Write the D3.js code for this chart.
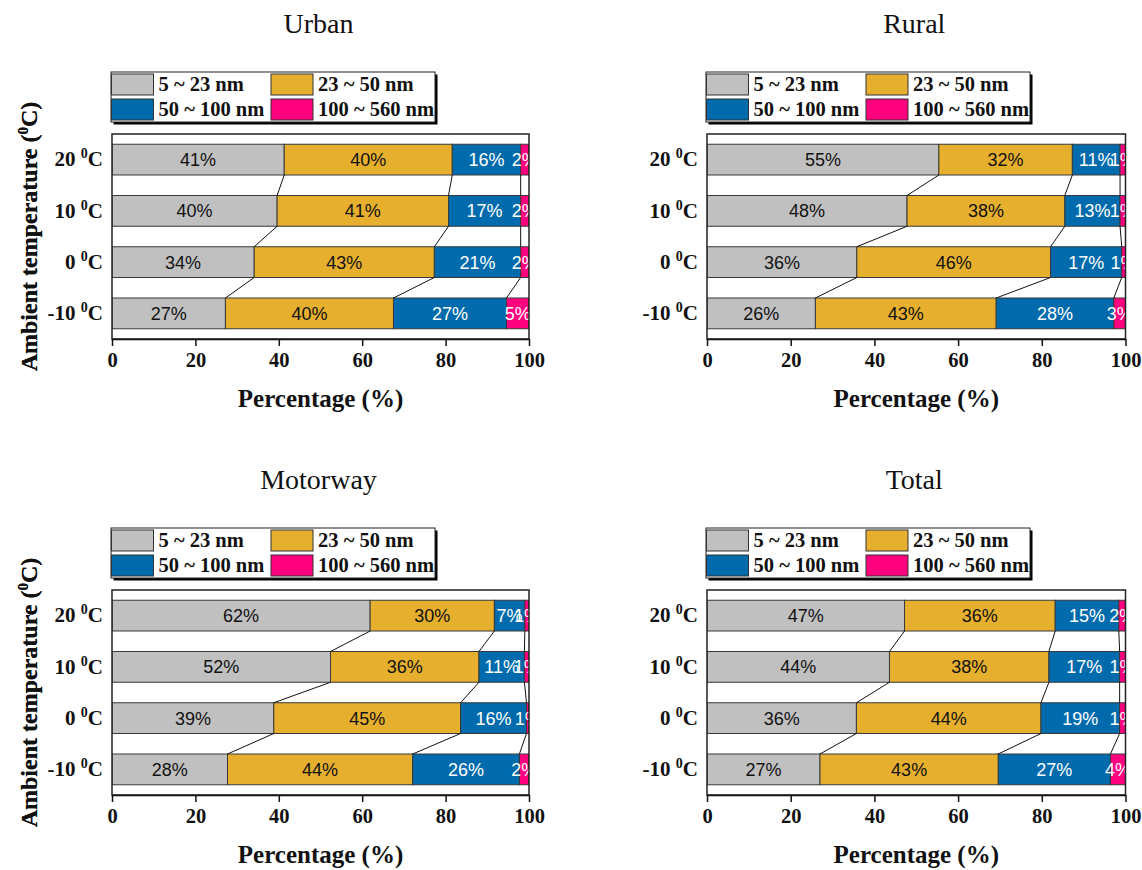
<!DOCTYPE html>
<html>
<head>
<meta charset="utf-8">
<script src="https://cdn.jsdelivr.net/npm/d3@7"></script>
<style>
  html, body { margin: 0; padding: 0; background: #fff; }
  svg { display: block; }
</style>
</head>
<body>
<svg id="chart" width="1142" height="870"></svg>
<script>
// Particle size bins (stack order, left to right)
const sizeBins = ["5 ~ 23 nm", "23 ~ 50 nm", "50 ~ 100 nm", "100 ~ 560 nm"];
const binColors = ["#c0c0c0", "#e6af2e", "#006bac", "#ff007f"];
const labelColors = ["#111", "#111", "#fff", "#fff"];

// Ambient temperatures, top to bottom
const temperatures = ["20", "10", "0", "-10"];
const xTicks = [0, 20, 40, 60, 80, 100];

// Share of each size bin (%) per temperature, rows follow `temperatures`
const urban = [
  [41.3, 40.3, 16.4, 2.0],
  [39.6, 41.1, 17.3, 2.0],
  [34.1, 43.2, 20.7, 2.0],
  [27.2, 40.3, 27.1, 5.4]
];
const rural = [
  [55.4, 31.9, 11.4, 1.3],
  [47.8, 37.7, 13.2, 1.3],
  [35.8, 46.3, 17.0, 0.9],
  [25.9, 43.2, 28.1, 2.8]
];
const motorway = [
  [61.9, 29.8, 7.3, 1.0],
  [52.4, 35.6, 10.9, 1.1],
  [38.8, 44.8, 15.8, 0.6],
  [27.7, 44.4, 25.6, 2.3]
];
const total = [
  [47.2, 36.0, 15.2, 1.6],
  [43.6, 38.1, 16.9, 1.4],
  [35.7, 44.1, 18.8, 1.4],
  [27.0, 42.6, 26.8, 3.6]
];

const panels = [
  { title: "Urban",    data: urban,    left: 112, top: 134, width: 417 },
  { title: "Rural",    data: rural,    left: 707, top: 134, width: 418.5 },
  { title: "Motorway", data: motorway, left: 112, top: 590, width: 417 },
  { title: "Total",    data: total,    left: 707, top: 590, width: 418.5 }
];

const plotHeight = 205;
const serif = "'Liberation Serif', 'Times New Roman', serif";
const sans = "'Liberation Sans', Arial, sans-serif";
const pct = d3.format(".0f");

const svg = d3.select("#chart");

panels.forEach((p, pi) => {
  const g = svg.append("g").attr("transform", `translate(${p.left},${p.top})`);
  const w = p.width, h = plotHeight;

  const x = d3.scaleLinear().domain([0, 100]).range([0, w]);
  const y = d3.scaleBand().domain(temperatures).range([0, h])
    .paddingInner(0.4).paddingOuter(0.2);

  const rows = p.data.map((vals, i) => {
    const r = { temp: temperatures[i] };
    vals.forEach((v, k) => r[k] = v);
    return r;
  });
  const series = d3.stack().keys(d3.range(sizeBins.length))(rows);

  // Title
  g.append("text")
    .attr("x", w / 2 - 2).attr("y", -101)
    .attr("text-anchor", "middle")
    .attr("font-family", serif).attr("font-size", 28)
    .attr("fill", "#111")
    .text(p.title);

  // Legend with drop shadow
  const lg = g.append("g").attr("transform", "translate(-1,-62)");
  const lw = 324, lh = 50;
  lg.append("rect").attr("x", 2.5).attr("y", 2.5).attr("width", lw).attr("height", lh).attr("fill", "#000");
  lg.append("rect").attr("width", lw).attr("height", lh).attr("fill", "#fff")
    .attr("stroke", "#222").attr("stroke-width", 1);
  sizeBins.forEach((name, k) => {
    const col = k % 2, row = Math.floor(k / 2);
    const sx = col === 0 ? 0.5 : 160, sy = row === 0 ? 2 : 27;
    lg.append("rect")
      .attr("x", sx).attr("y", sy).attr("width", 42).attr("height", 21)
      .attr("fill", binColors[k]).attr("stroke", "#333").attr("stroke-width", 1);
    lg.append("text")
      .attr("x", sx + 47).attr("y", sy + 17)
      .attr("font-family", serif).attr("font-weight", "bold").attr("font-size", 20.5)
      .attr("fill", "#111")
      .text(name);
  });

  // Clip region for the plot area
  const clipId = "clip" + pi;
  g.append("clipPath").attr("id", clipId)
    .append("rect").attr("width", w).attr("height", h);

  // Plot background
  g.append("rect").attr("width", w).attr("height", h).attr("fill", "#fff");

  const plot = g.append("g").attr("clip-path", `url(#${clipId})`);

  // Stacked bars
  series.forEach((s, k) => {
    plot.append("g").selectAll("rect")
      .data(s).join("rect")
      .attr("x", d => x(d[0]))
      .attr("y", d => y(d.data.temp))
      .attr("width", d => x(d[1]) - x(d[0]))
      .attr("height", y.bandwidth())
      .attr("fill", binColors[k])
      .attr("stroke", "#3a3a3a").attr("stroke-width", 1);
  });

  // Connector lines between the segment boundaries of adjacent bars
  const links = [];
  series.slice(0, -1).forEach(s => {
    for (let i = 0; i < s.length - 1; i++) {
      links.push({ a: s[i], b: s[i + 1] });
    }
  });
  plot.append("g").selectAll("line")
    .data(links).join("line")
    .attr("x1", d => x(d.a[1]))
    .attr("y1", d => y(d.a.data.temp) + y.bandwidth())
    .attr("x2", d => x(d.b[1]))
    .attr("y2", d => y(d.b.data.temp))
    .attr("stroke", "#111").attr("stroke-width", 1);

  // Value labels
  series.forEach((s, k) => {
    plot.append("g").selectAll("text")
      .data(s).join("text")
      .attr("x", d => (x(d[0]) + x(d[1])) / 2)
      .attr("y", d => y(d.data.temp) + y.bandwidth() / 2)
      .attr("dy", "0.36em")
      .attr("text-anchor", "middle")
      .attr("font-family", sans).attr("font-size", 18)
      .attr("fill", labelColors[k])
      .text(d => pct(d[1] - d[0]) + "%");
  });

  // Frame
  g.append("rect").attr("width", w).attr("height", h)
    .attr("fill", "none").attr("stroke", "#222").attr("stroke-width", 1.5);

  // X axis
  const xa = g.append("g").attr("transform", `translate(0,${h})`)
    .call(d3.axisBottom(x).tickValues(xTicks).tickSize(7).tickSizeOuter(0).tickPadding(6));
  xa.select(".domain").attr("stroke", "#111").attr("stroke-width", 1.5);
  xa.selectAll(".tick line").attr("stroke", "#111").attr("stroke-width", 1.5);
  xa.selectAll(".tick text")
    .attr("font-family", serif).attr("font-weight", "bold").attr("font-size", 20.5)
    .attr("fill", "#111");

  g.append("text")
    .attr("x", w / 2).attr("y", h + 68)
    .attr("text-anchor", "middle")
    .attr("font-family", serif).attr("font-weight", "bold").attr("font-size", 25)
    .attr("fill", "#111")
    .text("Percentage (%)");

  // Y axis labels with superscript degree zero
  const ya = g.append("g")
    .call(d3.axisLeft(y).tickSize(0).tickPadding(9).tickFormat(""));
  ya.select(".domain").remove();
  ya.selectAll(".tick text").each(function(d) {
    const t = d3.select(this)
      .attr("font-family", serif).attr("font-weight", "bold").attr("font-size", 21)
      .attr("fill", "#111").attr("dy", "0.32em");
    t.append("tspan").text(d + " ");
    t.append("tspan").attr("font-size", 14).attr("dy", -8).text("0");
    t.append("tspan").attr("dy", 8).text("C");
  });

  const yl = g.append("text")
    .attr("transform", `translate(${-p.left + 37},${h / 2}) rotate(-90)`)
    .attr("text-anchor", "middle")
    .attr("font-family", serif).attr("font-weight", "bold").attr("font-size", 24)
    .attr("fill", "#111");
  yl.append("tspan").text("Ambient temperature (");
  yl.append("tspan").attr("font-size", 15).attr("dy", -9).text("0");
  yl.append("tspan").attr("dy", 9).text("C)");
});
</script>
</body>
</html>
